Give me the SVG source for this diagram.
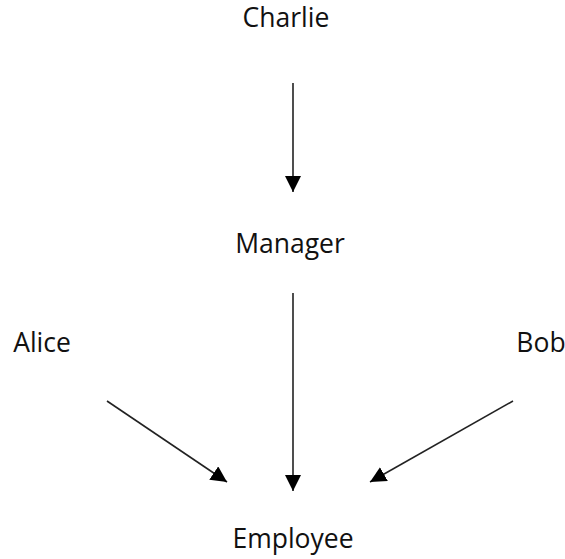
<svg xmlns="http://www.w3.org/2000/svg" width="565" height="559" viewBox="0 0 565 559">
  <defs>
    <style>
      .lbl { font-family: "Open Sans", "Noto Sans", "Liberation Sans", sans-serif; font-size: 26.5px; fill: #111; text-anchor: middle; }
      .edge { stroke: #222; stroke-width: 1.6; fill: none; marker-end: url(#arrow); }
    </style>
    <marker id="arrow" markerUnits="userSpaceOnUse" markerWidth="16" markerHeight="16" viewBox="0 0 14 14" refX="14" refY="7" orient="auto">
      <path d="M0,0 L14,7 L0,14 Z" fill="#000"/>
    </marker>
  </defs>
  <rect width="565" height="559" fill="#fff"/>
  <g id="connectors">
    <line class="edge" x1="293" y1="83" x2="293" y2="192"/>
    <line class="edge" x1="293" y1="293" x2="293" y2="491"/>
    <line class="edge" x1="107" y1="401" x2="227" y2="482"/>
    <line class="edge" x1="513" y1="401" x2="370" y2="482"/>
  </g>
  <g id="charlie"><text class="lbl" x="286" y="27">Charlie</text></g>
  <g id="manager"><text class="lbl" x="290" y="253">Manager</text></g>
  <g id="alice"><text class="lbl" x="42" y="352">Alice</text></g>
  <g id="bob"><text class="lbl" x="541" y="352">Bob</text></g>
  <g id="employee"><text class="lbl" x="293" y="548">Employee</text></g>
</svg>
